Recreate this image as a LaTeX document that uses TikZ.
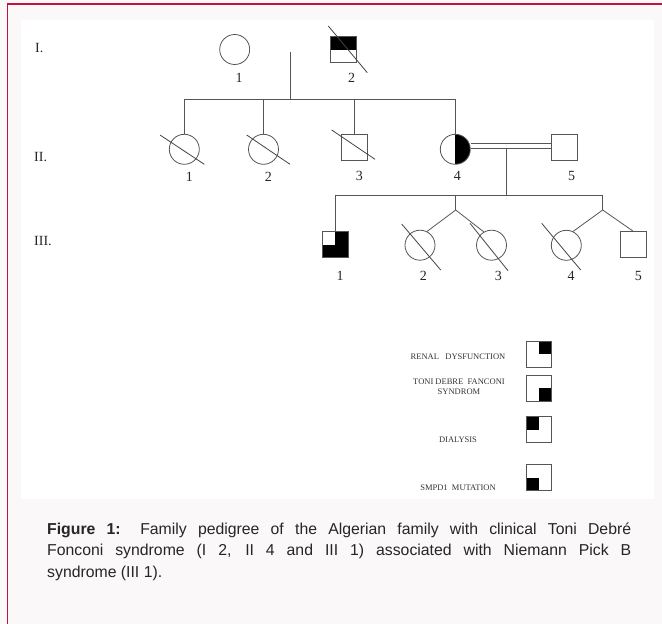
\documentclass[tikz,border=0pt]{standalone}
\usepackage{fontspec}
\setmainfont{Liberation Serif}
\newfontfamily\capfont{Liberation Sans}
\definecolor{framered}{RGB}{196,18,60}
\definecolor{bgc}{RGB}{250,248,249}
\definecolor{ln}{RGB}{85,85,85}
\definecolor{captxt}{RGB}{38,38,38}
\tikzset{
  ped/.style={draw=ln, line width=0.8pt},
  fem/.style={circle, ped, minimum size=30pt, inner sep=0pt},
  mal/.style={rectangle, ped, minimum size=26pt, inner sep=0pt},
  legbox/.style={rectangle, draw=ln, line width=0.8pt, minimum size=25.5pt, inner sep=0pt},
  fillTL/.style={path picture={\fill[black] (path picture bounding box.north west) rectangle (path picture bounding box.center);}},
  fillTR/.style={path picture={\fill[black] (path picture bounding box.north east) rectangle (path picture bounding box.center);}},
  fillBL/.style={path picture={\fill[black] (path picture bounding box.south west) rectangle (path picture bounding box.center);}},
  fillBR/.style={path picture={\fill[black] (path picture bounding box.south east) rectangle (path picture bounding box.center);}},
  fillTop/.style={path picture={\fill[black] (path picture bounding box.north west) rectangle (path picture bounding box.east);}},
  fillRight/.style={path picture={\fill[black] (path picture bounding box.north) rectangle (path picture bounding box.south east);}},
  fillThree/.style={path picture={\fill[black] (path picture bounding box.north east) rectangle (path picture bounding box.south west);
     \fill[white] (path picture bounding box.north west) rectangle (path picture bounding box.center);}},
  lab/.style={font=\fontsize{14}{14}\selectfont, text=black!85, inner sep=0pt},
  gen/.style={font=\fontsize{14}{14}\selectfont, text=black!85, inner sep=0pt, anchor=west},
  leg/.style={font=\fontsize{8.5}{10}\selectfont, text=black!80, inner sep=0pt, align=center},
  slash/.style={draw=ln!80!black, line width=0.8pt},
  conn/.style={draw=ln, line width=0.8pt},
  dbl/.style={draw=ln, line width=0.8pt, double=white, double distance=4.2pt},
}
\begin{document}
\begin{tikzpicture}[x=1pt,y=-1pt]
% background and frame
\fill[bgc] (0,0) rectangle (662,624);
\useasboundingbox (0,0) rectangle (662,624);
\fill[white] (21,20) rectangle (654,499);
\draw[framered, line width=1.3pt] (7.3,4) -- (662,4);
\draw[framered, line width=1.3pt] (7.3,4) -- (7.3,624);

% generation labels
\node[gen] (gI) at (35,48) {I.};
\node[gen] (gII) at (34,156.7) {II.};
\node[gen] (gIII) at (34,241) {III.};

% generation I
\node[fem] (I1) at (234.7,49.5) {};
\node[mal, fillTop] (I2) at (343.7,49.5) {};
\draw[dbl] (I1) -- (I2);
\draw[slash] (328.3,26) -- (367.3,72.7);
\node[lab] (lI1) at (239,78.3) {1};
\node[lab] (lI2) at (351.7,78.3) {2};
\coordinate (m1) at (290.7,51.8);
\coordinate (s1) at (290.7,99.7);
\draw[conn] (m1) -- (s1);

% generation II
\node[fem] (II1) at (184.3,149.3) {};
\node[fem] (II2) at (263.5,149.3) {};
\node[mal] (II3) at (354.7,147.2) {};
\node[fem, fillRight] (II4) at (455.3,149.3) {};
\node[mal] (II5) at (564.5,147.2) {};
\draw[conn] (II1.north) -- (II1.north |- s1) -- (II4.north |- s1) -- (II4.north);
\draw[conn] (II2.north) -- (II2.north |- s1);
\draw[conn] (II3.north) -- (II3.north |- s1);
\draw[slash] (160,135) -- (204.3,164.3);
\draw[slash] (246.7,135) -- (290,164.3);
\draw[slash] (331.7,130) -- (375,159.3);
\coordinate (m2) at (506.7,145.8);
\draw[dbl] (II4.east |- m2) -- (II5.west |- m2);
\coordinate (m2b) at (506.7,148);
\coordinate (s2) at (506.7,195);
\draw[conn] (m2b) -- (s2);
\node[lab] (lII1) at (189.3,176.7) {1};
\node[lab] (lII2) at (268.3,176.7) {2};
\node[lab] (lII3) at (359.3,176.3) {3};
\node[lab] (lII4) at (457.3,176.3) {4};
\node[lab] (lII5) at (571.7,176.3) {5};

% generation III
\node[mal, fillThree] (III1) at (335.2,244.5) {};
\node[fem] (III2) at (420,245.2) {};
\node[fem] (III3) at (491.5,245.2) {};
\node[fem] (III4) at (566.3,245.3) {};
\node[mal] (III5) at (633,244.5) {};
\coordinate (t1) at (455.7,210);
\coordinate (t2) at (602.7,210);
\draw[conn] (III1.north) -- (III1.north |- s2) -- (t2 |- s2) -- (t2);
\draw[conn] (t1 |- s2) -- (t1);
\draw[conn] (t1) -- (III2.63);
\draw[conn] (t1) -- (III3.120);
\draw[conn] (t2) -- (III4.64);
\draw[conn] (t2) -- (III5.north);
\draw[slash] (401.7,224) -- (440.7,270);
\draw[slash] (470,223.3) -- (508,270.7);
\draw[slash] (541.7,223.3) -- (580.7,270);
\node[lab] (lIII1) at (340,275.7) {1};
\node[lab] (lIII2) at (423.3,276) {2};
\node[lab] (lIII3) at (498.3,276) {3};
\node[lab] (lIII4) at (571,276) {4};
\node[lab] (lIII5) at (638.3,276) {5};

% legend
\node[legbox, fillTR] (lg1) at (538.8,354.2) {};
\node[legbox, fillBR] (lg2) at (538.8,388.3) {};
\node[legbox, fillTL] (lg3) at (538.8,429.5) {};
\node[legbox, fillBL] (lg4) at (538.8,477.5) {};
\node[leg] (tx1) at (458,356.7) {RENAL\ \ \ DYSFUNCTION};
\node[leg] (tx2) at (459,386.7) {TONI DEBRE\ \ FANCONI\\SYNDROM};
\node[leg] (tx3) at (458,439.3) {DIALYSIS};
\node[leg] (tx4) at (458,487.3) {SMPD1\ \ MUTATION};

% caption
\node[anchor=north west, inner sep=0pt, text width=584pt, align=justify,
      font=\capfont\fontsize{15.8}{21.5}\selectfont, text=captxt] (cap) at (47,522.4)
  {\textbf{Figure 1:} Family pedigree of the Algerian family with clinical Toni Debré\linebreak
   Fonconi syndrome (I 2, II 4 and III 1) associated with Niemann Pick B\linebreak
   syndrome (III 1).};
\end{tikzpicture}
\end{document}
